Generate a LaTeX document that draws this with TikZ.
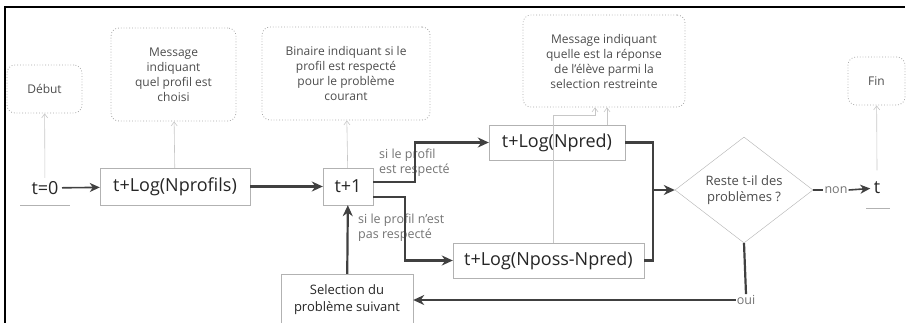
\documentclass[tikz,border=0pt]{standalone}
\usepackage{fontspec}
\setmainfont{Open Sans}
\usetikzlibrary{arrows.meta, shapes.geometric}

\begin{document}
\begin{tikzpicture}
[x=1pt, y=-1pt, bloc/.style={draw=black!30, fill=white, text=black!85, font=\fontsize{18}{20}\selectfont, inner sep=0pt}, note/.style={draw=black!35, dotted, line width=0.8pt, rounded corners=8pt, text=black!70, align=center, font=\fontsize{12}{15}\selectfont, inner sep=0pt}, lien/.style={line width=2.2pt, draw=black!75, -{Stealth[length=11pt, width=10pt, inset=3.5pt]}}, lien fin/.style={line width=1.6pt, draw=black!75, -{Stealth[length=10pt, width=9pt, inset=3pt]}}, trait/.style={line width=2.2pt, draw=black!75}, hint/.style={draw=black!22, line width=0.6pt, -{Straight Barb[length=4pt, width=6pt]}}, etiq/.style={text=black!55, align=left, font=\fontsize{12.5}{15}\selectfont, inner sep=1pt}]
    \useasboundingbox (0,0) rectangle (909,322);
    \draw[black, line width=1.3pt] (5,330) -- (5,7) -- (905,7);
    % messages
    \node[note, minimum width=75, minimum height=48] (debut) at (44.5,89) {Début};
    \node[note, minimum width=125, minimum height=93] (msgA) at (173.5,74.5) {Message\\indiquant\\quel profil est\\choisi};
    \node[note, minimum width=168, minimum height=93] (binaire) at (346,73.5) {Binaire indiquant si le\\profil est respecté\\pour le problème\\courant};
    \node[note, minimum width=162, minimum height=92] (msgB) at (604,61) {Message indiquant\\quelle est la réponse\\de l'élève parmi la\\selection restreinte};
    \node[note, minimum width=57, minimum height=48] (fin) at (876.5,81) {Fin};
    % etapes
    \node[text=black!85, font=\fontsize{18}{20}\selectfont] (t0) at (45,188) {t=0};
    \node[bloc, minimum width=150, minimum height=37] (nprof) at (175,186.5) {t+Log(Nprofils)};
    \node[bloc, minimum width=50, minimum height=37] (tplus) at (348,186.5) {t+1};
    \node[bloc, minimum width=136, minimum height=35] (npred) at (557,142.5) {t+Log(Npred)};
    \node[bloc, minimum width=191, minimum height=35] (nposs) at (548.5,260.5) {t+Log(Nposs-Npred)};
    \node[bloc, font=\fontsize{13}{17}\selectfont, align=center, minimum width=132, minimum height=52] (select) at (347,300) {Selection du\\problème suivant};
    \node[diamond, draw=black!30, fill=white, text=black!70, align=center, font=\fontsize{13}{16}\selectfont, minimum width=138, minimum height=84, inner sep=0pt] (test) at (744,190) {Reste t-il des\\problèmes ?};
    \node[text=black!85, font=\fontsize{18}{20}\selectfont] (tfin) at (877,188) {t};
    \coordinate (jonc) at (653,190);
    % labels
    \node[etiq, anchor=west] (oklab) at (378,163) {si le profil\\est respecté};
    \node[etiq, anchor=west] (nonlab) at (357,228) {si le profil n'est\\pas respecté};
    \node[etiq] (non) at (836,190) {non};
    \node[etiq] (oui) at (746,300) {oui};
    % traits
    \draw[black!30, line width=1pt] (20,205) -- (70,205);
    \draw[black!30, line width=1pt] (866,208) -- (890,208);
    \draw[lien fin] (t0) -- (nprof);
    \draw[lien] (nprof) -- (tplus);
    \draw[lien] ([yshift=4.5pt]tplus.east) -- ++(42,0) |- (npred);
    \draw[lien] ([yshift=-10.5pt]tplus.east) -- ++(32,0) |- (nposs);
    \draw[trait] (npred) -| (jonc) |- (nposs);
    \draw[lien] (jonc) -- (test);
    \draw[trait] (test.east) -- (non.west);
    \draw[lien fin] (non.east) -- (tfin);
    \draw[trait] (test.south) -- (oui.north);
    \draw[lien] (oui.west) -- (select.east);
    \draw[lien] (select) -- (tplus);
    % fleches grises
    \draw[hint] (t0) -- (debut);
    \draw[hint] (nprof) -- (msgA);
    \draw[hint] (tplus) -- (binaire);
    \draw[hint] ([xshift=50pt]npred.north) -- ([xshift=3pt]msgB.south);
    \draw[hint] ([xshift=4.5pt]nposs.north) |- ([xshift=-9pt, yshift=-8pt]msgB.south) -- ([xshift=-9pt]msgB.south);
    \draw[hint] ([yshift=8pt]tfin.north) -- (fin);
\end{tikzpicture}
\end{document}
